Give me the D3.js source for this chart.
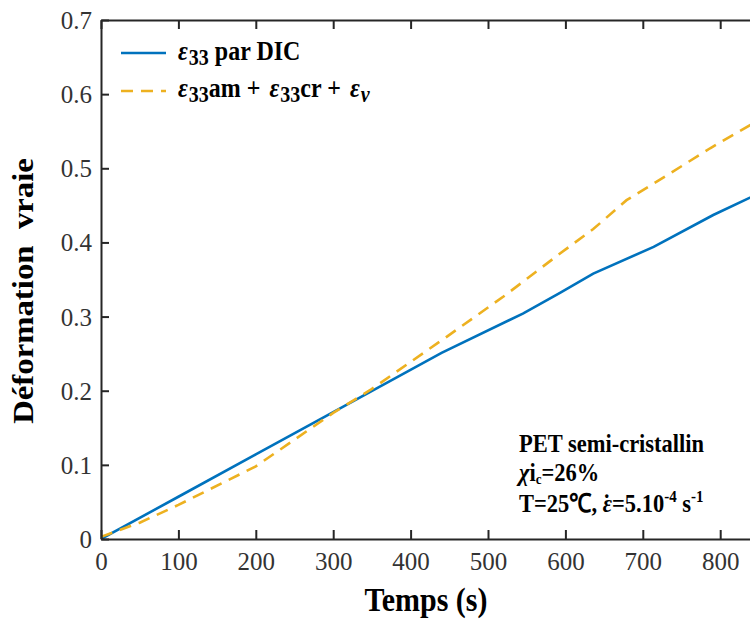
<!DOCTYPE html>
<html>
<head>
<meta charset="utf-8">
<script src="https://cdn.jsdelivr.net/npm/d3@7"></script>
<style>
  html, body { margin: 0; padding: 0; background: #fff; }
  svg { display: block; }
</style>
</head>
<body>
<svg id="chart" width="750" height="621" font-family="Liberation Serif"></svg>
<script>
// ---- data ----
const timeDIC   = [0, 100, 200, 300, 440, 545, 593, 636, 714, 791, 850];
const strainDIC = [0, 0.057, 0.114, 0.171, 0.251, 0.304, 0.332, 0.358, 0.394, 0.437, 0.466];

const timeSum   = [0, 50, 100, 200, 300, 348, 447, 520, 593, 636, 679, 735, 787, 850];
const strainSum = [0.003, 0.022, 0.046, 0.098, 0.170, 0.201, 0.273, 0.327, 0.385, 0.418, 0.457, 0.493, 0.527, 0.565];

const xTicks = [0, 100, 200, 300, 400, 500, 600, 700, 800];
const yTicks = [0, 0.1, 0.2, 0.3, 0.4, 0.5, 0.6, 0.7];
const xDomain = [0, 850];
const yDomain = [0, 0.7];

// ---- layout ----
const FONT = "Liberation Serif";
const svg = d3.select("#chart");
const mLeft = 101, mRight = 101 + 0.774 * 850, mTop = 20, mBottom = 539;
const x = d3.scaleLinear().domain(xDomain).range([mLeft, mRight]);
const y = d3.scaleLinear().domain(yDomain).range([mBottom, mTop]);
const axisColor = "#262626";
const SY = 1.15; // vertical stretch of text seen in the reference
const DASH = "12,8";

svg.append("defs").append("clipPath").attr("id", "plotclip")
  .append("rect").attr("x", mLeft).attr("y", mTop).attr("width", mRight - mLeft).attr("height", mBottom - mTop);

// lines
const line = d3.line().x(d => x(d[0])).y(d => y(d[1]));
const g = svg.append("g").attr("clip-path", "url(#plotclip)");
g.append("path")
  .datum(timeDIC.map((t, i) => [t, strainDIC[i]]))
  .attr("d", line).attr("fill", "none")
  .attr("stroke", "#0072BD").attr("stroke-width", 2.6);
g.append("path")
  .datum(timeSum.map((t, i) => [t, strainSum[i]]))
  .attr("d", line).attr("fill", "none")
  .attr("stroke", "#EDB120").attr("stroke-width", 2.6)
  .attr("stroke-dasharray", DASH);

// axes (box with inward ticks)
function styleAxis(sel) {
  sel.attr("font-family", FONT).attr("font-size", 25);
  sel.select(".domain").attr("stroke", axisColor).attr("stroke-width", 2);
  sel.selectAll(".tick line").attr("stroke", axisColor).attr("stroke-width", 2);
  sel.selectAll(".tick text").attr("fill", "#333");
}
const xAxis = svg.append("g").attr("transform", `translate(0,${mBottom})`)
  .call(d3.axisBottom(x).tickValues(xTicks).tickFormat(d3.format("d")).tickSizeInner(-9).tickSizeOuter(0));
styleAxis(xAxis);
xAxis.selectAll(".tick text").attr("y", 31).attr("dy", 0);

const xAxisTop = svg.append("g").attr("transform", `translate(0,${mTop})`)
  .call(d3.axisTop(x).tickValues(xTicks).tickFormat("").tickSizeInner(-9).tickSizeOuter(0));
styleAxis(xAxisTop);

const yAxis = svg.append("g").attr("transform", `translate(${mLeft},0)`)
  .call(d3.axisLeft(y).tickValues(yTicks).tickFormat(d => d === 0 ? "0" : d.toFixed(1)).tickSizeInner(-8).tickSizeOuter(0));
styleAxis(yAxis);
yAxis.selectAll(".tick text").attr("x", -9).attr("dy", 0).attr("y", 8.5);

// axis titles
svg.append("text")
  .attr("transform", `translate(426,611) scale(1,${SY})`)
  .attr("text-anchor", "middle")
  .attr("font-size", 30).attr("font-weight", "bold").attr("fill", "#000")
  .text("Temps (s)");

svg.append("text")
  .attr("transform", `translate(33,291) rotate(-90) scale(${SY},1)`)
  .attr("text-anchor", "middle")
  .attr("font-size", 28.5).attr("font-weight", "bold").attr("fill", "#000")
  .attr("xml:space", "preserve")
  .text("Déformation  vraie");

// legend
const legendItems = [
  { color: "#0072BD", dash: null, y: 53 },
  { color: "#EDB120", dash: DASH, y: 91 }
];
legendItems.forEach(it => {
  svg.append("line").attr("x1", 121).attr("x2", 166).attr("y1", it.y).attr("y2", it.y)
    .attr("stroke", it.color).attr("stroke-width", 2.6)
    .attr("stroke-dasharray", it.dash);
});
function eps(t, sub, first) {
  t.append("tspan").attr("font-style", "italic").attr("dx", first ? 0 : 3).text("ε");
  if (sub) t.append("tspan").attr("font-size", 20).attr("dx", 1).attr("dy", 4).text(sub);
}
const l1 = svg.append("text").attr("transform", `translate(178,60) scale(1,${SY})`)
  .attr("font-size", 24).attr("font-weight", "bold").attr("fill", "#000")
  .attr("xml:space", "preserve");
eps(l1, "33", true);
l1.append("tspan").attr("dy", -4).text(" par DIC");

const l2 = svg.append("text").attr("transform", `translate(178,97) scale(1,${SY})`)
  .attr("font-size", 24).attr("font-weight", "bold").attr("fill", "#000")
  .attr("xml:space", "preserve");
eps(l2, "33", true);
l2.append("tspan").attr("dy", -4).text("am + ");
eps(l2, "33");
l2.append("tspan").attr("dy", -4).text("cr + ");
eps(l2, "");
l2.append("tspan").attr("font-size", 20).attr("font-style", "italic").attr("dx", 1).attr("dy", 4).text("v");

// annotation
const ann = svg.append("g").attr("font-weight", "bold").attr("font-size", 22.5).attr("fill", "#000");
ann.append("text").attr("transform", `translate(519,452) scale(1,${SY})`).text("PET semi-cristallin");
const a2 = ann.append("text").attr("transform", `translate(519,481) scale(1,${SY})`);
a2.append("tspan").attr("font-style", "italic").text("χ");
a2.append("tspan").text("i");
a2.append("tspan").attr("font-size", 13).attr("dy", 3).text("c");
a2.append("tspan").attr("dy", -3).text("=26%");
const a3 = ann.append("text").attr("transform", `translate(519,512) scale(1,${SY})`)
  .attr("xml:space", "preserve");
a3.append("tspan").text("T=25℃, ");
a3.append("tspan").attr("font-style", "italic").text("ε");
a3.append("tspan").attr("dx", -9).text("˙");
a3.append("tspan").attr("dx", 1.5).text("=5.10");
a3.append("tspan").attr("font-size", 15).attr("dy", -9).text("-4");
a3.append("tspan").attr("dy", 9).text(" s");
a3.append("tspan").attr("font-size", 15).attr("dy", -9).text("-1");

svg.selectAll("text").attr("font-family", FONT);
</script>
</body>
</html>
